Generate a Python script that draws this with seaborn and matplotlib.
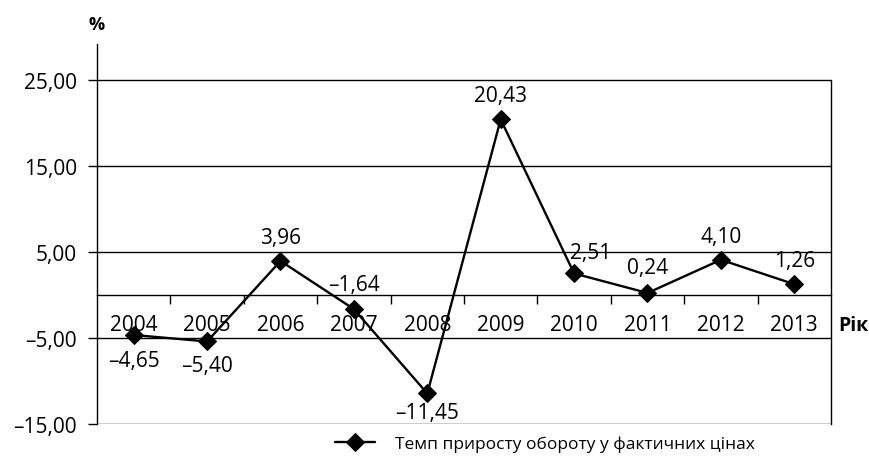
import numpy as np
import pandas as pd
import seaborn as sns
import matplotlib.pyplot as plt

years = ["2004", "2005", "2006", "2007", "2008", "2009", "2010", "2011", "2012", "2013"]
values = [-4.65, -5.40, 3.96, -1.64, -11.45, 20.43, 2.51, 0.24, 4.10, 1.26]
yticks = [-15, -5, 5, 15, 25]
series_name = "Темп приросту обороту у фактичних цінах"

# зсуви підписів значень (в пунктах)
lab_dx = [0, 0, 0, 0, 0, 0, 12, 0, 0, 0]
lab_dy = [-18, -17, 17, 18, -14, 17, 15, 18, 17, 17]

sns.set_style("white")
plt.rcParams['font.family'] = ['Open Sans', 'DejaVu Sans']
plt.rcParams['axes.unicode_minus'] = False

df = pd.DataFrame({"pos": np.arange(len(years)), "val": values})

fig = plt.figure(figsize=(8.7, 4.64), dpi=100)
ax = fig.add_axes([97/870, 1-425/464, (831-97)/870, (425-45)/464])

sns.lineplot(data=df, x="pos", y="val", ax=ax, color="black", linewidth=1.7,
             marker="D", markersize=9.5, markeredgecolor="black",
             label=series_name, legend=False)

def fmt(v):
    s = f"{abs(v):.2f}".replace(".", ",")
    return ("–" + s) if v < 0 else s

for i, v in enumerate(values):
    ax.annotate(fmt(v), (i, v), xytext=(lab_dx[i], lab_dy[i]), textcoords="offset points",
                ha="center", va="center", fontsize=15, color="black")

ax.set_xlim(-0.5, 9.5)
ax.set_ylim(-15, 29.2)
ax.set_yticks(yticks)
ax.set_yticklabels([fmt(t) for t in yticks])
ax.grid(axis="y", color="black", linewidth=1.0)
ax.set_axisbelow(True)

ax.set_xticks(np.arange(len(years)))
ax.set_xticklabels(years)
ax.set_xticks(np.arange(len(years) - 1) + 0.5, minor=True)
ax.tick_params(axis="x", which="major", bottom=True, length=0, pad=14, labelsize=15, colors="black")
ax.tick_params(axis="x", which="minor", bottom=True, length=6.5, width=1.0, direction="out", color="black")
ax.tick_params(axis="y", left=True, length=6.5, width=1.0, pad=8, labelsize=15, colors="black")
ax.set_xlabel("")
ax.set_ylabel("")

for s in ["left", "bottom", "right"]:
    ax.spines[s].set_color("black")
    ax.spines[s].set_linewidth(1.0)
ax.spines["top"].set_visible(False)
ax.spines["bottom"].set_position(("data", 0))
ax.spines["right"].set_bounds(-15, 25)

ax.text(0.0, 1.03, "%", transform=ax.transAxes, ha="center", va="bottom",
        fontsize=13, fontweight="bold", color="black")
ax.text(1.01, -3.5, "Рік", transform=ax.get_yaxis_transform(), ha="left", va="center",
        fontsize=14, fontweight="bold", color="black")

h, l = ax.get_legend_handles_labels()
fig.legend(h, l, loc="center", bbox_to_anchor=(545/870, 1-445/464), frameon=False,
           fontsize=12.5, handlelength=2.3, handletextpad=1.15, labelcolor="black")

fig.savefig("out.png", dpi=100)
